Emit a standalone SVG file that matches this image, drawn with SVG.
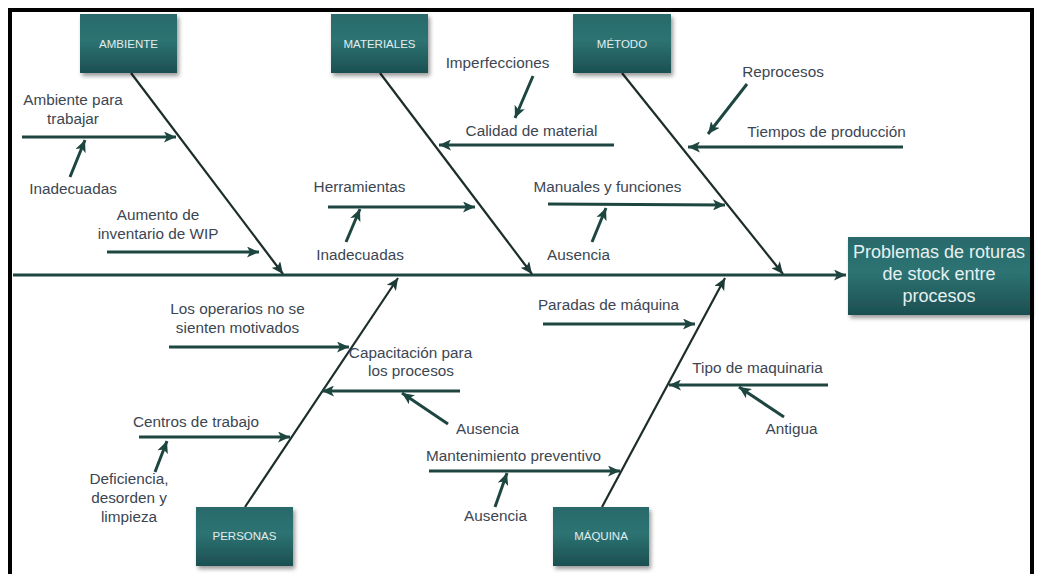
<svg xmlns="http://www.w3.org/2000/svg" width="1041" height="574" viewBox="0 0 1041 574">
  <style>
    .lbl { font-family: "Liberation Sans", Arial, sans-serif; font-size: 15.3px; fill: #3c4652; text-anchor: middle; }
    .cat { font-family: "Liberation Sans", Arial, sans-serif; font-size: 11.5px; fill: #e2eeee; text-anchor: middle; }
    .eff { font-family: "Liberation Sans", Arial, sans-serif; font-size: 18px; fill: #e6f0f0; text-anchor: middle; }
    .box { fill: url(#boxFill); filter: url(#shadow); }
    .bone { stroke: #1c2d2b; stroke-width: 2.2; fill: none; marker-end: url(#ahBone); }
    .sub { stroke: #1e4640; stroke-width: 3; fill: none; marker-end: url(#ahSub); }
    .spine { stroke: #1e4640; stroke-width: 3.2; fill: none; marker-end: url(#ahSub); }
  </style>
  <defs>
    <linearGradient id="boxFill" x1="0" y1="0" x2="0" y2="1">
      <stop offset="0" stop-color="#2a6a6b"/>
      <stop offset="0.45" stop-color="#2d7373"/>
      <stop offset="1" stop-color="#1c4f51"/>
    </linearGradient>
    <filter id="shadow" x="-10%" y="-10%" width="125%" height="130%">
      <feDropShadow dx="2" dy="3" stdDeviation="2" flood-color="#000" flood-opacity="0.4"/>
    </filter>
    <marker id="ahSub" markerUnits="userSpaceOnUse" markerWidth="13" markerHeight="11" refX="12" refY="5.5" orient="auto">
      <path d="M0,0 L12,5.5 L0,11 L3,5.5 z" fill="#1e4640"/>
    </marker>
    <marker id="ahBone" markerUnits="userSpaceOnUse" markerWidth="13" markerHeight="11" refX="12" refY="5.5" orient="auto">
      <path d="M0,0 L12,5.5 L0,11 L3,5.5 z" fill="#1c3a36"/>
    </marker>
  </defs>

  <rect x="0" y="0" width="1041" height="574" fill="#ffffff"/>
  <!-- outer frame -->
  <rect x="10" y="10" width="1022" height="600" fill="none" stroke="#000" stroke-width="4"/>

  <!-- connectors -->
  <g id="connectors">
    <line class="spine" x1="13" y1="275" x2="846" y2="275"/>
    <line class="bone" x1="131" y1="73" x2="283" y2="274"/>
    <line class="bone" x1="380" y1="73" x2="532" y2="274"/>
    <line class="bone" x1="622" y1="73" x2="783" y2="274"/>
    <line class="bone" x1="245" y1="507" x2="398" y2="278"/>
    <line class="bone" x1="602" y1="507" x2="725" y2="278"/>

    <line class="sub" x1="22" y1="137" x2="176" y2="137"/>
    <line class="sub" x1="70" y1="177" x2="85" y2="140"/>
    <line class="sub" x1="107" y1="252" x2="259" y2="252"/>

    <line class="sub" x1="533" y1="76" x2="515" y2="118"/>
    <line class="sub" x1="614" y1="145" x2="439" y2="145"/>
    <line class="sub" x1="328" y1="207" x2="475" y2="207"/>
    <line class="sub" x1="346" y1="242" x2="360" y2="209"/>

    <line class="sub" x1="747" y1="84" x2="708" y2="134"/>
    <line class="sub" x1="903" y1="147" x2="688" y2="147"/>
    <line class="sub" x1="548" y1="204" x2="725" y2="205"/>
    <line class="sub" x1="592" y1="242" x2="606" y2="208"/>

    <line class="sub" x1="169" y1="347" x2="349" y2="347"/>
    <line class="sub" x1="460" y1="391" x2="322" y2="391"/>
    <line class="sub" x1="448" y1="424" x2="402" y2="393"/>
    <line class="sub" x1="139" y1="437" x2="290" y2="437"/>
    <line class="sub" x1="155" y1="472" x2="167" y2="441"/>

    <line class="sub" x1="543" y1="324" x2="695" y2="324"/>
    <line class="sub" x1="828" y1="385" x2="669" y2="385"/>
    <line class="sub" x1="784" y1="417" x2="739" y2="387"/>
    <line class="sub" x1="429" y1="471" x2="620" y2="471"/>
    <line class="sub" x1="495" y1="507" x2="507" y2="473"/>
  </g>

  <!-- category boxes -->
  <g id="ambiente">
    <rect class="box" x="80" y="14" width="97" height="59"/>
    <text class="cat" x="128.5" y="48">AMBIENTE</text>
  </g>
  <g id="materiales">
    <rect class="box" x="331" y="14" width="97" height="59"/>
    <text class="cat" x="379.5" y="48">MATERIALES</text>
  </g>
  <g id="metodo">
    <rect class="box" x="573" y="14" width="98" height="59"/>
    <text class="cat" x="622" y="48">MÉTODO</text>
  </g>
  <g id="personas">
    <rect class="box" x="196" y="507" width="97" height="59"/>
    <text class="cat" x="244.5" y="540">PERSONAS</text>
  </g>
  <g id="maquina">
    <rect class="box" x="553" y="507" width="96" height="59"/>
    <text class="cat" x="601" y="540">MÁQUINA</text>
  </g>

  <!-- effect -->
  <g id="efecto">
    <rect class="box" x="848" y="237" width="182" height="78"/>
    <text class="eff" x="939" y="258">Problemas de roturas</text>
    <text class="eff" x="939" y="280">de stock entre</text>
    <text class="eff" x="939" y="302">procesos</text>
  </g>

  <!-- cause labels -->
  <g id="causa-ambiente-trabajar">
    <text class="lbl" x="73" y="105">Ambiente para</text>
    <text class="lbl" x="73" y="124">trabajar</text>
  </g>
  <g id="causa-inadecuadas-1"><text class="lbl" x="73" y="194">Inadecuadas</text></g>
  <g id="causa-wip">
    <text class="lbl" x="158" y="220">Aumento de</text>
    <text class="lbl" x="158" y="239">inventario de WIP</text>
  </g>
  <g id="causa-imperfecciones"><text class="lbl" x="497.5" y="68">Imperfecciones</text></g>
  <g id="causa-calidad"><text class="lbl" x="531.5" y="136">Calidad de material</text></g>
  <g id="causa-herramientas"><text class="lbl" x="359.5" y="192">Herramientas</text></g>
  <g id="causa-inadecuadas-2"><text class="lbl" x="360" y="260">Inadecuadas</text></g>
  <g id="causa-reprocesos"><text class="lbl" x="783" y="77">Reprocesos</text></g>
  <g id="causa-tiempos"><text class="lbl" x="826.5" y="137">Tiempos de producción</text></g>
  <g id="causa-manuales"><text class="lbl" x="607.5" y="192">Manuales y funciones</text></g>
  <g id="causa-ausencia-1"><text class="lbl" x="578.5" y="260">Ausencia</text></g>
  <g id="causa-motivacion">
    <text class="lbl" x="237.5" y="314">Los operarios no se</text>
    <text class="lbl" x="237.5" y="333">sienten motivados</text>
  </g>
  <g id="causa-capacitacion">
    <text class="lbl" x="410.5" y="358">Capacitación para</text>
    <text class="lbl" x="411" y="376">los procesos</text>
  </g>
  <g id="causa-ausencia-2"><text class="lbl" x="487.5" y="434">Ausencia</text></g>
  <g id="causa-centros"><text class="lbl" x="196" y="427">Centros de trabajo</text></g>
  <g id="causa-deficiencia">
    <text class="lbl" x="129" y="484">Deficiencia,</text>
    <text class="lbl" x="129" y="503">desorden y</text>
    <text class="lbl" x="129" y="522">limpieza</text>
  </g>
  <g id="causa-paradas"><text class="lbl" x="608.5" y="310">Paradas de máquina</text></g>
  <g id="causa-tipo"><text class="lbl" x="757.5" y="373">Tipo de maquinaria</text></g>
  <g id="causa-antigua"><text class="lbl" x="791.5" y="434">Antigua</text></g>
  <g id="causa-mantenimiento"><text class="lbl" x="513.5" y="461">Mantenimiento preventivo</text></g>
  <g id="causa-ausencia-3"><text class="lbl" x="495.5" y="521">Ausencia</text></g>
</svg>
